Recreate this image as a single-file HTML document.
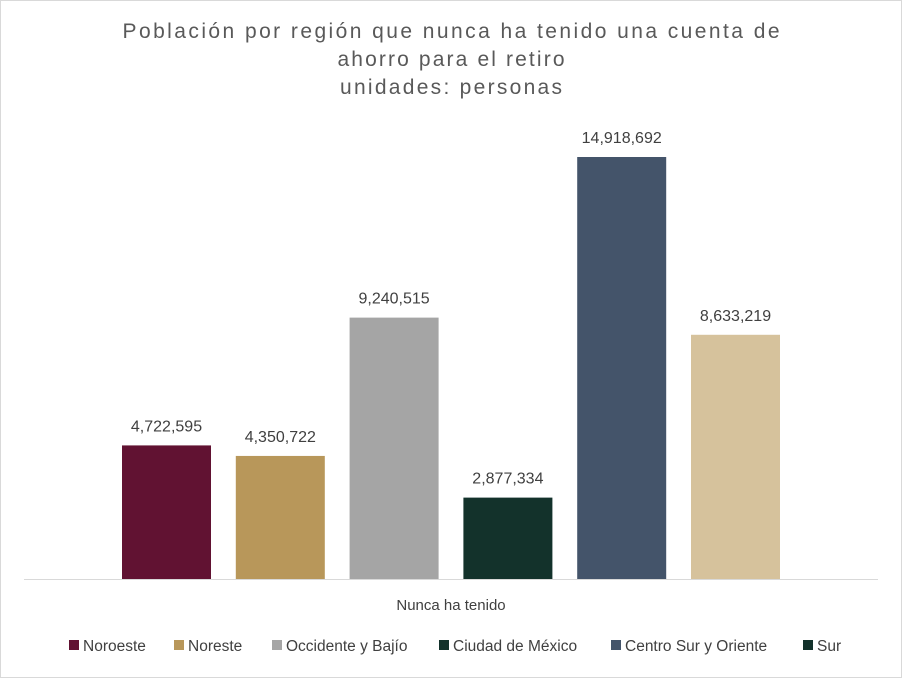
<!DOCTYPE html>
<html><head><meta charset="utf-8"><style>
body{margin:0;background:#fff;}
svg{display:block;font-family:"Liberation Sans",sans-serif;}
</style></head><body>
<svg id="chart" width="902" height="678" viewBox="0 0 902 678">
<rect x="0.5" y="0.5" width="901" height="677" fill="#fff" stroke="#d9d9d9"/>
<g fill="#595959" font-size="21" text-anchor="middle">
<text x="451" y="38" textLength="657" lengthAdjust="spacing">Población por región que nunca ha tenido una cuenta de</text>
<text x="451" y="66" textLength="227" lengthAdjust="spacing">ahorro para el retiro</text>
<text x="451" y="94" textLength="222" lengthAdjust="spacing">unidades: personas</text>
</g>
<line x1="24" y1="579.5" x2="878" y2="579.5" stroke="#d9d9d9"/>
<text x="451" y="610" font-size="15" fill="#404040" text-anchor="middle">Nunca ha tenido</text>
<g id="bars"></g>
<g id="legend"></g>
</svg>
<script>
const categories=["Noroeste","Noreste","Occidente y Bajío","Ciudad de México","Centro Sur y Oriente","Sur"];
const values=[4722595,4350722,9240515,2877334,14918692,8633219];
const barColors=["#611232","#b8975a","#a5a5a5","#13322b","#44546a","#d6c29c"];
const legendColors=["#611232","#b8975a","#a5a5a5","#13322b","#44546a","#13322b"];
const legendX=[69,174,272,439,611,803];
const ns="http://www.w3.org/2000/svg";
const base=579, pxPerUnit=422/14918692;
function y(v){return base-v*pxPerUnit;}
function x(i){return 122+i*113.8;}
const bw=89;
const bars=document.getElementById('bars');
values.forEach((v,i)=>{
  const r=document.createElementNS(ns,'rect');
  r.setAttribute('x',x(i));r.setAttribute('y',y(v));
  r.setAttribute('width',bw);r.setAttribute('height',base-y(v));
  r.setAttribute('fill',barColors[i]);
  
  
  bars.appendChild(r);
  const t=document.createElementNS(ns,'text');
  t.setAttribute('x',x(i)+bw/2);t.setAttribute('y',y(v)-14);
  t.setAttribute('text-anchor','middle');t.setAttribute('font-size','16');t.setAttribute('fill','#404040');
  t.textContent=v.toLocaleString('en-US');
  
  
  bars.appendChild(t);
});
const lg=document.getElementById('legend');
categories.forEach((c,i)=>{
  const g=document.createElementNS(ns,'g');
  
  
  const r=document.createElementNS(ns,'rect');
  r.setAttribute('x',legendX[i]);r.setAttribute('y',640);r.setAttribute('width',10);r.setAttribute('height',10);
  r.setAttribute('fill',legendColors[i]);
  g.appendChild(r);
  const t=document.createElementNS(ns,'text');
  t.setAttribute('x',legendX[i]+14);t.setAttribute('y',651);t.setAttribute('font-size','15.5');t.setAttribute('fill','#404040');
  t.textContent=c;
  g.appendChild(t);
  lg.appendChild(g);
});
</script>
</body></html>
